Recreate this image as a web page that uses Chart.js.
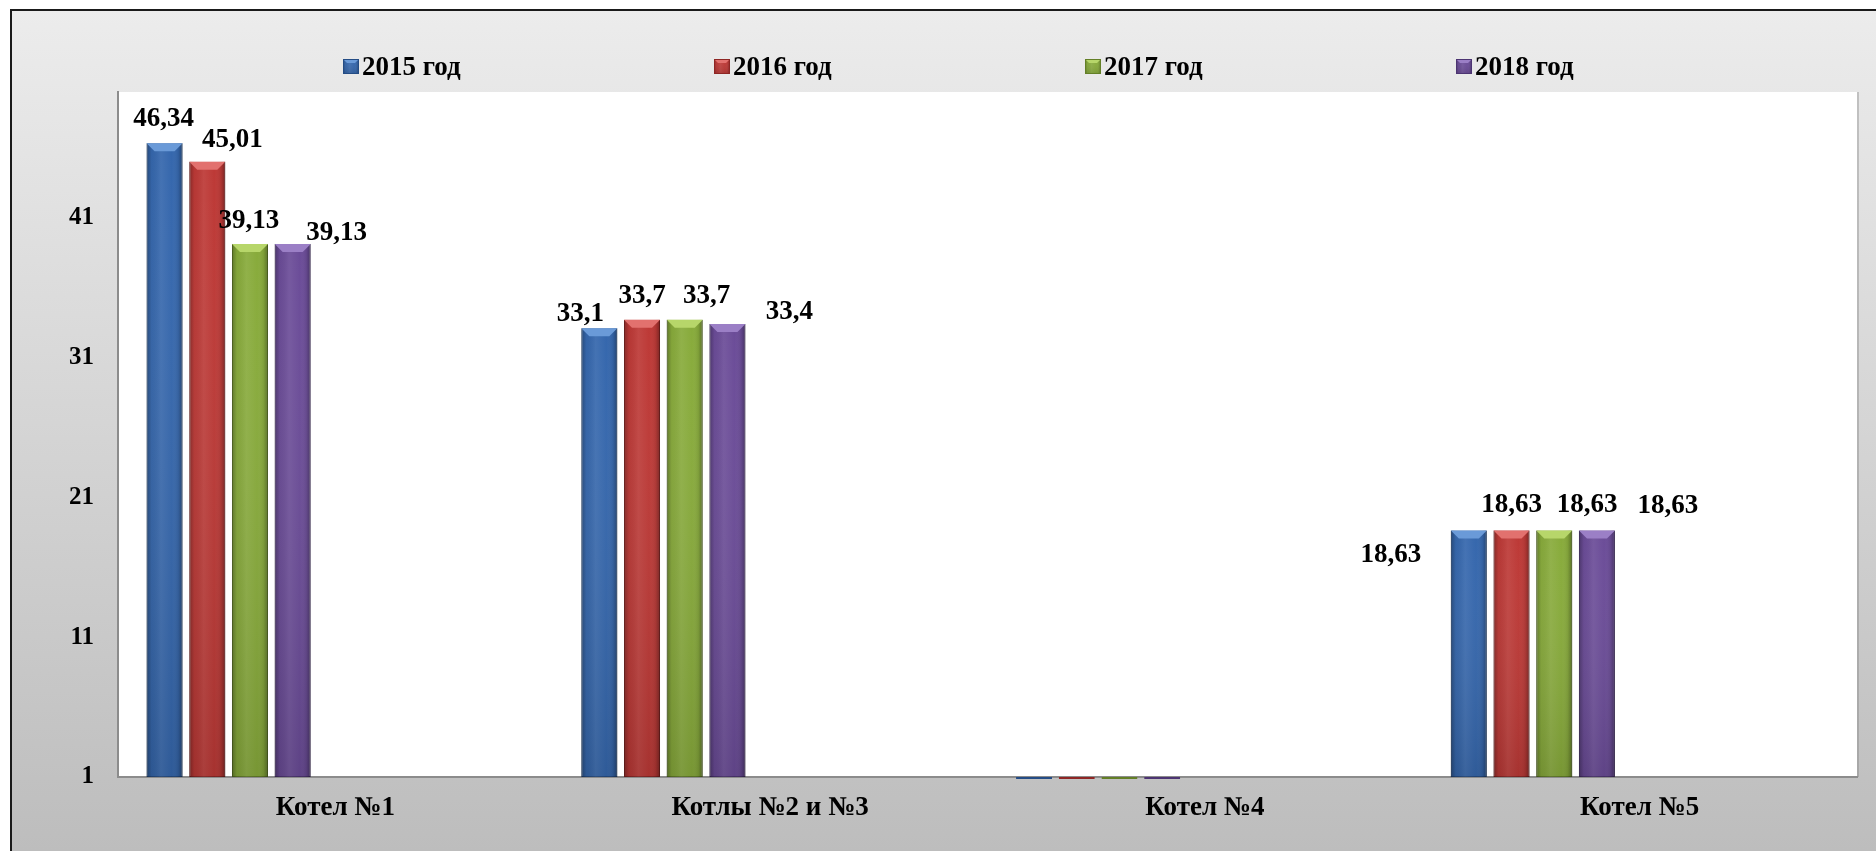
<!DOCTYPE html>
<html lang="ru">
<head>
<meta charset="utf-8">
<title>Котлы 2015–2018</title>
<script src="https://cdn.jsdelivr.net/npm/chart.js@4/dist/chart.umd.min.js"></script>
<style>
html,body{margin:0;padding:0;background:#fff;overflow:hidden}
#wrap{position:relative;width:1876px;height:851px}
</style>
</head>
<body>
<div id="wrap"><canvas id="chart"></canvas></div>
<script>
const categories = ['Котел №1', 'Котлы №2 и №3', 'Котел №4', 'Котел №5'];
const seriesNames = ['2015 год', '2016 год', '2017 год', '2018 год'];
const values2015 = [46.34, 33.1, 0.85, 18.63];
const values2016 = [45.01, 33.7, 0.85, 18.63];
const values2017 = [39.13, 33.7, 0.85, 18.63];
const values2018 = [39.13, 33.4, 0.85, 18.63];
const yTickValues = [1, 11, 21, 31, 41];
const yMin = 1, yMax = 50;
const labelledCats = [true, true, false, true];

function q(id){return document.getElementById(id)}

const FONT = '"Liberation Serif", "Times New Roman", serif';
const colors = ['#3567ad', '#bd3936', '#88ab3b', '#6b4c98'];
const edges = ['#244c85', '#8e2624', '#637f26', '#4c3472'];
const tops = ['#6a9ad8', '#e2716e', '#b7d66a', '#9b7fc6'];

// where each value label sits, [dx, dy] from bar centre / bar top to text baseline
const labelNudge = [
  [[-1,-17],[25,-15],[-1,-16],[44,-4]],
  [[-19,-7],[0,-17],[22,-17],[62,-5]],
  null,
  [[-78,31],[0,-19],[33,-19],[71,-18]]
];

function fmt(v){ return String(v).replace('.', ',') }

// excel leaves empty series slots to the right of the four years
const emptySlots = 5;
const seriesValues = [values2015, values2016, values2017, values2018];
const datasets = seriesValues.map((vals, i) => ({
  label: seriesNames[i],
  data: vals,
  base: yMin,
  backgroundColor: colors[i],
  borderColor: edges[i],
  borderWidth: 1,
  borderSkipped: false,
  categoryPercentage: 0.884,
  barPercentage: 0.843,
  clip: false
}));
for(let k=0;k<emptySlots;k++){
  datasets.push({label:'', data: categories.map(()=>null), base: yMin, categoryPercentage:0.884, barPercentage:0.843});
}

function bevel(ctx, left, top, w, h, i){
  // side shading
  const g = ctx.createLinearGradient(left, 0, left + w, 0);
  g.addColorStop(0, 'rgba(0,0,0,0.30)');
  g.addColorStop(0.14, 'rgba(0,0,0,0.04)');
  g.addColorStop(0.4, 'rgba(255,255,255,0.07)');
  g.addColorStop(0.7, 'rgba(255,255,255,0)');
  g.addColorStop(0.88, 'rgba(0,0,0,0.08)');
  g.addColorStop(1, 'rgba(0,0,0,0.35)');
  ctx.fillStyle = g;
  ctx.fillRect(left, top, w, h);
  const v = ctx.createLinearGradient(0, top, 0, top + h);
  v.addColorStop(0, 'rgba(255,255,255,0)');
  v.addColorStop(1, 'rgba(0,0,0,0.12)');
  ctx.fillStyle = v;
  ctx.fillRect(left, top, w, h);
  // top facet
  const b = Math.min(8, w/4);
  ctx.fillStyle = tops[i];
  ctx.beginPath();
  ctx.moveTo(left, top); ctx.lineTo(left + w, top);
  ctx.lineTo(left + w - b, top + b); ctx.lineTo(left + b, top + b);
  ctx.closePath(); ctx.fill();
}

const framePlugin = {
  id: 'frame',
  beforeDraw(chart){
    const {ctx, chartArea: a, width, height} = chart;
    ctx.save();
    ctx.fillStyle = '#fff'; ctx.fillRect(0, 0, width, height);
    const g = ctx.createLinearGradient(0, 10, 0, height);
    g.addColorStop(0, '#ececec'); g.addColorStop(1, '#bdbdbd');
    ctx.fillStyle = g; ctx.fillRect(11, 10, width - 11, height - 10);
    ctx.strokeStyle = '#1a1a1a'; ctx.lineWidth = 2;
    ctx.beginPath(); ctx.moveTo(11, height); ctx.lineTo(11, 10); ctx.lineTo(width, 10); ctx.stroke();
    ctx.fillStyle = '#fff'; ctx.fillRect(a.left, a.top, a.right - a.left, a.bottom - a.top);
    ctx.strokeStyle = 'rgba(120,120,120,0.35)'; ctx.lineWidth = 2;
    ctx.beginPath(); ctx.moveTo(a.right + 1, a.top); ctx.lineTo(a.right + 1, a.bottom); ctx.stroke();
    ctx.restore();
  }
};

const barLookPlugin = {
  id: 'barLook',
  afterDatasetsDraw(chart){
    const ctx = chart.ctx;
    ctx.save();
    for(let i=0;i<seriesValues.length;i++){
      chart.getDatasetMeta(i).data.forEach(el => {
        const h = Math.abs(el.base - el.y);
        if(h < 10) return;
        bevel(ctx, el.x - el.width/2, Math.min(el.y, el.base), el.width, h, i);
      });
    }
    ctx.restore();
  }
};

const labelPlugin = {
  id: 'valueLabels',
  afterDatasetsDraw(chart){
    const ctx = chart.ctx;
    ctx.save();
    ctx.font = 'bold 27px ' + FONT;
    ctx.fillStyle = '#000';
    ctx.textAlign = 'center';
    ctx.textBaseline = 'alphabetic';
    for(let i=0;i<seriesValues.length;i++){
      chart.getDatasetMeta(i).data.forEach((el, c) => {
        if(!labelledCats[c] || !labelNudge[c]) return;
        const [dx, dy] = labelNudge[c][i];
        ctx.fillText(fmt(seriesValues[i][c]), el.x + dx, el.y + dy);
      });
    }
    ctx.restore();
  }
};

const legendPlugin = {
  id: 'yearLegend',
  afterDraw(chart){
    const ctx = chart.ctx;
    ctx.save();
    ctx.font = 'bold 27px ' + FONT;
    ctx.textBaseline = 'alphabetic';
    ctx.textAlign = 'left';
    seriesNames.forEach((name, i) => {
      const x = 343 + i*371;
      ctx.fillStyle = colors[i];
      ctx.fillRect(x, 59, 16, 15);
      bevel(ctx, x, 59, 16, 15, i);
      ctx.strokeStyle = edges[i]; ctx.lineWidth = 1;
      ctx.strokeRect(x + 0.5, 59.5, 15, 14);
      ctx.fillStyle = '#000';
      ctx.fillText(name, x + 19, 75);
    });
    ctx.restore();
  }
};

new Chart(q('chart'), {
  type: 'bar',
  data: { labels: categories, datasets },
  options: {
    responsive: true,
    maintainAspectRatio: false,
    animation: false,
    layout: { padding: { left: 68, right: 19, top: 92, bottom: 24 } },
    plugins: { legend: { display: false }, tooltip: { enabled: false } },
    scales: {
      x: {
        grid: { display: false, drawTicks: false },
        border: { display: true, color: '#8c8c8c', width: 2 },
        ticks: { font: { family: FONT, size: 27, weight: 'bold' }, color: '#000', padding: 15, maxRotation: 0, autoSkip: false },
        afterFit: s => { s.height = 50 }
      },
      y: {
        min: yMin, max: yMax,
        grid: { display: false, drawTicks: false },
        border: { display: true, color: '#8c8c8c', width: 2 },
        ticks: { font: { family: FONT, size: 25, weight: 'bold' }, color: '#000', padding: 24 },
        afterBuildTicks: s => { s.ticks = yTickValues.map(v => ({ value: v })) },
        afterFit: s => { s.width = 50 }
      }
    }
  },
  plugins: [framePlugin, barLookPlugin, labelPlugin, legendPlugin]
});
</script>
</body>
</html>
